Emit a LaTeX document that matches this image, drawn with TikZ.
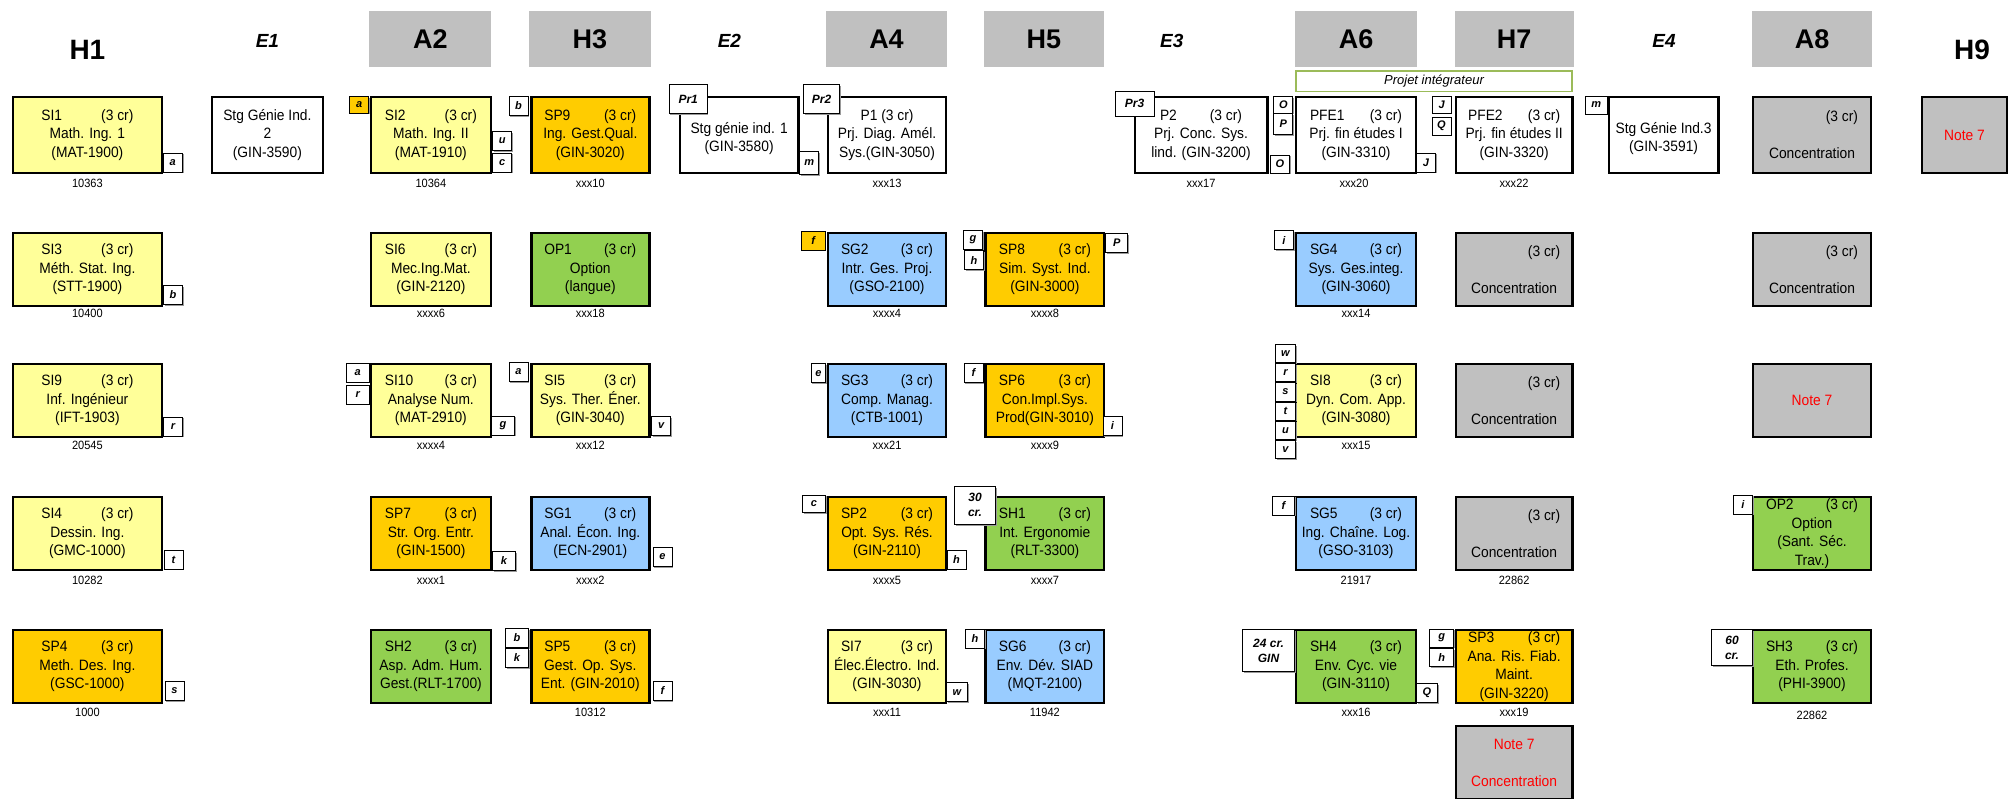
\documentclass[tikz,border=0pt]{standalone}
\usepackage{fontspec}
\setmainfont{Liberation Sans}
\newfontfamily\boxfont{Liberation Sans}[FakeStretch=0.92]
\usetikzlibrary{shadows}
\definecolor{cYel}{HTML}{FFFF99}
\definecolor{cOra}{HTML}{FFCC00}
\definecolor{cBlu}{HTML}{99CCFF}
\definecolor{cGrn}{HTML}{92D050}
\definecolor{cGry}{HTML}{C0C0C0}
\definecolor{cPrj}{HTML}{9BBB59}
\newcommand{\tete}[2][92pt]{\makebox[#1]{#2\hfill(3 cr)}}
\newcommand{\conc}{\makebox[92pt][r]{(3 cr)}\\[18.5pt]Concentration}
\tikzset{
  crs/.style={draw=black, line width=2.4pt, minimum width=118pt, minimum height=72.6pt,
    inner sep=0pt, align=center, font=\boxfont\fontsize{15}{18.5}\selectfont},
  tall/.style={minimum height=75.6pt},
  yelbox/.style={crs, fill=cYel},
  orabox/.style={crs, fill=cOra},
  blubox/.style={crs, fill=cBlu},
  grnbox/.style={crs, fill=cGrn},
  whtbox/.style={crs, fill=white},
  grybox/.style={crs, fill=cGry},
  tag/.style={draw=black, fill=white, line width=0.9pt, minimum width=19pt, minimum height=19pt,
    inner sep=0pt, align=center, font=\bfseries\itshape\fontsize{11}{15}\selectfont,
    drop shadow={shadow xshift=1.2pt, shadow yshift=-1.2pt, fill=black!40, opacity=1}},
  bigtag/.style={tag, font=\bfseries\itshape\fontsize{12}{15}\selectfont},
  num/.style={inner sep=0pt, font=\boxfont\fontsize{12}{13}\selectfont},
  hdr/.style={fill=cGry, minimum width=120pt, minimum height=56pt, inner sep=0pt,
    font=\bfseries\fontsize{27}{30}\selectfont},
  htxt/.style={inner sep=0pt, font=\bfseries\fontsize{28}{30}\selectfont},
  etxt/.style={inner sep=0pt, font=\bfseries\itshape\fontsize{19}{22}\selectfont}
}

\begin{document}
\begin{tikzpicture}[x=1pt,y=-1pt]
    \useasboundingbox (0,0) rectangle (2010,798);
    % headers
    \node[htxt] (hH1) at (87.4,50) {H1};
    \node[etxt] (hE1) at (267.4,41) {E1};
    \node[hdr, minimum width=122pt] (hA2) at (430.4,39) {A2};
    \node[hdr, minimum width=121.5pt] (hH3) at (589.8,39) {H3};
    \node[etxt] (hE2) at (729.4,41) {E2};
    \node[hdr, minimum width=121pt] (hA4) at (886.5,39) {A4};
    \node[hdr, minimum width=119.6pt] (hH5) at (1043.8,39) {H5};
    \node[etxt] (hE3) at (1171.7,41) {E3};
    \node[hdr, minimum width=122pt] (hA6) at (1356,39) {A6};
    \node[hdr, minimum width=119.2pt] (hH7) at (1514.1,39) {H7};
    \node[etxt] (hE4) at (1664,41) {E4};
    \node[hdr, minimum width=120pt] (hA8) at (1812,39) {A8};
    \node[htxt] (hH9) at (1972,50) {H9};
    \node[draw=cPrj, line width=1.5pt, minimum width=276pt, minimum height=20.5pt, inner sep=0pt,
      font=\itshape\fontsize{13}{15}\selectfont] (projet) at (1434,81) {Projet intégrateur};

    % row 1
    \node[yelbox, tall, minimum width=149pt] (si1) at (87.4,135) {\tete{SI1}\\Math. Ing. 1\\(MAT-1900)};
    \node[whtbox, tall, minimum width=110.6pt] (stg2) at (267.4,135) {Stg Génie Ind.\\2\\(GIN-3590)};
    \node[yelbox, tall, minimum width=120.3pt] (si2) at (430.9,135) {\tete{SI2}\\Math. Ing. II\\(MAT-1910)};
    \node[orabox, tall] (sp9) at (590.3,135) {\tete{SP9}\\Ing. Gest.Qual.\\(GIN-3020)};
    \node[whtbox, tall, minimum width=118.6pt] (stg1) at (739.1,135) {~\\Stg génie ind. 1\\(GIN-3580)};
    \node[whtbox, tall] (p1) at (887,135) {P1 (3 cr)\\Prj. Diag. Amél.\\Sys.(GIN-3050)};
    \node[whtbox, tall, minimum width=132.6pt] (p2) at (1201,135) {\tete[82pt]{P2}\\Prj. Conc. Sys.\\lind. (GIN-3200)};
    \node[whtbox, tall, minimum width=119.6pt] (pfe1) at (1356,135) {\tete{PFE1}\\Prj. fin études I\\(GIN-3310)};
    \node[whtbox, tall, minimum width=116.6pt] (pfe2) at (1514.1,135) {\tete{PFE2}\\Prj. fin études II\\(GIN-3320)};
    \node[whtbox, tall, minimum width=109.6pt] (stg3) at (1663.5,135) {~\\Stg Génie Ind.3\\(GIN-3591)};
    \node[grybox, tall] (conc1) at (1812,135) {\conc};
    \node[grybox, tall, minimum width=84.6pt] (note1) at (1964.5,135) {\textcolor{red}{Note 7}};

    % row 2
    \node[yelbox, minimum width=149pt] (si3) at (87.4,269.5) {\tete{SI3}\\Méth. Stat. Ing.\\(STT-1900)};
    \node[yelbox, minimum width=120.3pt] (si6) at (430.9,269.5) {\tete{SI6}\\Mec.Ing.Mat.\\(GIN-2120)};
    \node[grnbox] (op1) at (590.3,269.5) {\tete{OP1}\\Option\\(langue)};
    \node[blubox] (sg2) at (887,269.5) {\tete{SG2}\\Intr. Ges. Proj.\\(GSO-2100)};
    \node[orabox, minimum width=118.6pt] (sp8) at (1044.9,269.5) {\tete{SP8}\\Sim. Syst. Ind.\\(GIN-3000)};
    \node[blubox, minimum width=119.6pt] (sg4) at (1356,269.5) {\tete{SG4}\\Sys. Ges.integ.\\(GIN-3060)};
    \node[grybox, minimum width=116.6pt] (conc2) at (1514.1,269.5) {\conc};
    \node[grybox] (conc3) at (1812,269.5) {\conc};

    % row 3
    \node[yelbox, minimum width=149pt] (si9) at (87.4,400.5) {\tete{SI9}\\Inf. Ingénieur\\(IFT-1903)};
    \node[yelbox, minimum width=120.3pt] (si10) at (430.9,400.5) {\tete{SI10}\\Analyse Num.\\(MAT-2910)};
    \node[yelbox] (si5) at (590.3,400.5) {\tete{SI5}\\Sys. Ther. Éner.\\(GIN-3040)};
    \node[blubox] (sg3) at (887,400.5) {\tete{SG3}\\Comp. Manag.\\(CTB-1001)};
    \node[orabox, minimum width=118.6pt] (sp6) at (1044.9,400.5) {\tete{SP6}\\Con.Impl.Sys.\\Prod(GIN-3010)};
    \node[yelbox, minimum width=119.6pt] (si8) at (1356,400.5) {\tete{SI8}\\Dyn. Com. App.\\(GIN-3080)};
    \node[grybox, minimum width=116.6pt] (conc4) at (1514.1,400.5) {\conc};
    \node[grybox] (note2) at (1812,400.5) {\textcolor{red}{Note 7}};

    % row 4
    \node[yelbox, minimum width=149pt] (si4) at (87.4,533.5) {\tete{SI4}\\Dessin. Ing.\\(GMC-1000)};
    \node[orabox, minimum width=120.3pt] (sp7) at (430.9,533.5) {\tete{SP7}\\Str. Org. Entr.\\(GIN-1500)};
    \node[blubox] (sg1) at (590.3,533.5) {\tete{SG1}\\Anal. Écon. Ing.\\(ECN-2901)};
    \node[orabox] (sp2) at (887,533.5) {\tete{SP2}\\Opt. Sys. Rés.\\(GIN-2110)};
    \node[grnbox, minimum width=118.6pt] (sh1) at (1044.9,533.5) {\tete{SH1}\\Int. Ergonomie\\(RLT-3300)};
    \node[blubox, minimum width=119.6pt] (sg5) at (1356,533.5) {\tete{SG5}\\Ing. Chaîne. Log.\\(GSO-3103)};
    \node[grybox, minimum width=116.6pt] (conc5) at (1514.1,533.5) {\conc};
    \node[grnbox] (op2) at (1812,533.5) {\tete{OP2}\\Option\\(Sant. Séc.\\Trav.)};

    % row 5
    \node[orabox, minimum width=149pt] (sp4) at (87.4,666.4) {\tete{SP4}\\Meth. Des. Ing.\\(GSC-1000)};
    \node[grnbox, minimum width=120.3pt] (sh2) at (430.9,666.4) {\tete{SH2}\\Asp. Adm. Hum.\\Gest.(RLT-1700)};
    \node[orabox] (sp5) at (590.3,666.4) {\tete{SP5}\\Gest. Op. Sys.\\Ent. (GIN-2010)};
    \node[yelbox] (si7) at (887,666.4) {\tete{SI7}\\Élec.Électro. Ind.\\(GIN-3030)};
    \node[blubox, minimum width=118.6pt] (sg6) at (1044.9,666.4) {\tete{SG6}\\Env. Dév. SIAD\\(MQT-2100)};
    \node[grnbox, minimum width=119.6pt] (sh4) at (1356,666.4) {\tete{SH4}\\Env. Cyc. vie\\(GIN-3110)};
    \node[orabox, minimum width=116.6pt] (sp3) at (1514.1,666.4) {\tete{SP3}\\Ana. Ris. Fiab.\\Maint.\\(GIN-3220)};
    \node[grnbox] (sh3) at (1812,666.4) {\tete{SH3}\\Eth. Profes.\\(PHI-3900)};

    % row 6
    \node[grybox, minimum width=116.6pt] (conc6) at (1514.1,762.5)
      {\textcolor{red}{Note 7}\\[18.5pt]\textcolor{red}{Concentration}};

    % numbers under the boxes
    \node[num] (n-si1) at (87.4,183) {10363};
    \node[num] (n-si2) at (430.9,183) {10364};
    \node[num] (n-sp9) at (590.3,183) {xxx10};
    \node[num] (n-p1) at (887,183) {xxx13};
    \node[num] (n-p2) at (1201,183) {xxx17};
    \node[num] (n-pfe1) at (1354,183) {xxx20};
    \node[num] (n-pfe2) at (1514.1,183) {xxx22};
    \node[num] (n-si3) at (87.4,313) {10400};
    \node[num] (n-si6) at (430.9,313) {xxxx6};
    \node[num] (n-op1) at (590.3,313) {xxx18};
    \node[num] (n-sg2) at (887,313) {xxxx4};
    \node[num] (n-sp8) at (1044.9,313) {xxxx8};
    \node[num] (n-sg4) at (1356,313) {xxx14};
    \node[num] (n-si9) at (87.4,445) {20545};
    \node[num] (n-si10) at (430.9,445) {xxxx4};
    \node[num] (n-si5) at (590.3,445) {xxx12};
    \node[num] (n-sg3) at (887,445) {xxx21};
    \node[num] (n-sp6) at (1044.9,445) {xxxx9};
    \node[num] (n-si8) at (1356,445) {xxx15};
    \node[num] (n-si4) at (87.4,580) {10282};
    \node[num] (n-sp7) at (430.9,580) {xxxx1};
    \node[num] (n-sg1) at (590.3,580) {xxxx2};
    \node[num] (n-sp2) at (887,580) {xxxx5};
    \node[num] (n-sh1) at (1044.9,580) {xxxx7};
    \node[num] (n-sg5) at (1356,580) {21917};
    \node[num] (n-conc5) at (1514.1,580) {22862};
    \node[num] (n-sp4) at (87.4,712) {1000};
    \node[num] (n-sp5) at (590.3,712) {10312};
    \node[num] (n-si7) at (887,712) {xxx11};
    \node[num] (n-sg6) at (1044.9,712) {11942};
    \node[num] (n-sh4) at (1356,712) {xxx16};
    \node[num] (n-sp3) at (1514.1,712) {xxx19};
    \node[num] (n-sh3) at (1812,715) {22862};

    % tags, row 1
    \node[tag] (si1-a) at (172.8,162.7) {a};
    \node[tag, fill=cOra, minimum height=16.5pt] (si2-a) at (359.3,105) {a};
    \node[tag] (si2-u) at (502.3,141) {u};
    \node[tag] (si2-c) at (502.3,162.5) {c};
    \node[tag] (sp9-b) at (518.5,106) {b};
    \node[bigtag, minimum width=38pt, minimum height=29pt] (stg1-pr) at (688.2,99.3) {Pr1};
    \node[tag, minimum height=23pt] (stg1-m) at (809.3,163) {m};
    \node[bigtag, minimum width=36pt, minimum height=29pt] (p1-pr) at (821.5,99.3) {Pr2};
    \node[bigtag, minimum width=39pt, minimum height=25pt] (p2-pr) at (1134.5,103.7) {Pr3};
    \node[tag, minimum height=16.5pt] (p2-o) at (1283.3,105) {O};
    \node[tag, minimum height=21pt] (p2-p) at (1283.3,124) {P};
    \node[tag, minimum height=18pt] (p2-o2) at (1280,164) {O};
    \node[tag] (pfe1-j) at (1426,162.5) {J};
    \node[tag, minimum height=16.5pt] (pfe2-j) at (1441.7,105) {J};
    \node[tag, minimum height=18pt] (pfe2-q) at (1441.5,126) {Q};
    \node[tag, minimum width=21.5pt, minimum height=18pt] (stg3-m) at (1596.3,105) {m};
    % tags, row 2
    \node[tag] (si3-b) at (173,295) {b};
    \node[tag, fill=cOra, minimum width=23.5pt] (sg2-f) at (813.3,240.7) {f};
    \node[tag] (sp8-g) at (973,240) {g};
    \node[tag] (sp8-h) at (974,260.3) {h};
    \node[tag, minimum width=22pt] (sp8-p) at (1116.9,243) {P};
    \node[tag] (sg4-i) at (1284,240.3) {i};
    % tags, row 3
    \node[tag] (si9-r) at (173,426.5) {r};
    \node[tag, minimum width=22.5pt] (si10-a) at (357.8,372.5) {a};
    \node[tag, minimum width=22.5pt] (si10-r) at (357.8,394.5) {r};
    \node[tag, minimum width=23pt] (si10-g) at (503,425.5) {g};
    \node[tag] (si5-a) at (518.5,372) {a};
    \node[tag] (si5-v) at (661.3,426) {v};
    \node[tag, minimum width=14.5pt] (sg3-e) at (818.5,373.3) {e};
    \node[tag] (sp6-f) at (973.5,373) {f};
    \node[tag] (sp6-i) at (1112.5,426) {i};
    \foreach \tg [count=\i] in {w,r,s,t,u,v}
      \node[tag, minimum width=20pt, minimum height=18.3pt] (si8-\tg) at (1285.5,{334.3+19.2*\i}) {\tg};
    % tags, row 4
    \node[tag] (si4-t) at (173.5,559.5) {t};
    \node[tag, minimum width=23pt] (sp7-k) at (504,561) {k};
    \node[tag] (sg1-e) at (662.5,557) {e};
    \node[tag, minimum width=23pt, minimum height=17.5pt] (sp2-c) at (814,504) {c};
    \node[tag] (sp2-h) at (956.5,559.5) {h};
    \node[bigtag, minimum width=41pt, minimum height=38pt] (sh1-cr) at (975,505.3) {30\\cr.};
    \node[tag, minimum width=22pt] (sg5-f) at (1283.5,505.5) {f};
    \node[tag] (op2-i) at (1743,504.5) {i};
    % tags, row 5
    \node[tag] (sp4-s) at (174.5,691) {s};
    \node[tag, minimum width=23pt] (sp5-b) at (517,638) {b};
    \node[tag, minimum width=23pt] (sp5-k) at (517,658) {k};
    \node[tag] (sp5-f) at (662.5,691) {f};
    \node[tag, minimum width=21pt] (si7-w) at (957,692.3) {w};
    \node[tag] (sg6-h) at (975,638.5) {h};
    \node[bigtag, minimum width=52pt, minimum height=42pt] (sh4-cr) at (1268.5,650.5) {24 cr.\\GIN};
    \node[tag, minimum width=21pt] (sh4-q) at (1427,693) {Q};
    \node[tag, minimum width=24pt, minimum height=18pt] (sp3-g) at (1441.8,638) {g};
    \node[tag, minimum width=24pt, minimum height=18pt] (sp3-h) at (1441.8,657.5) {h};
    \node[bigtag, minimum width=41pt, minimum height=36pt] (sh3-cr) at (1732,647.5) {60\\cr.};
\end{tikzpicture}
\end{document}
